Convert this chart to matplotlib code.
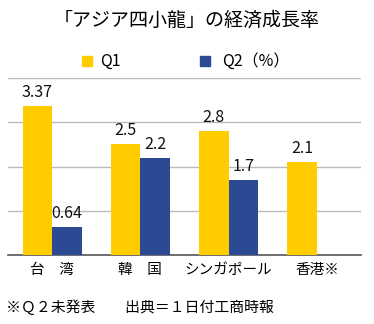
import numpy as np
import matplotlib
matplotlib.use("Agg")
import matplotlib.pyplot as plt
from matplotlib.patches import Rectangle

plt.rcParams['font.family'] = ['Noto Sans CJK JP', 'DejaVu Sans']

TITLE = "「アジア四小龍」の経済成長率"
categories = ["台　湾", "韓　国", "シンガポール", "香港※"]
q1 = [3.37, 2.5, 2.8, 2.1]
q2 = [0.64, 2.2, 1.7, None]
q1_labels = ["3.37", "2.5", "2.8", "2.1"]
q2_labels = ["0.64", "2.2", "1.7", None]
series_names = ["Q1", "Q2（%）"]
FOOTNOTE = "※Ｑ２未発表　　出典＝１日付工商時報"

YELLOW = '#FFCC00'
BLUE = '#2C4A94'

W, H = 374, 324
fig = plt.figure(figsize=(W / 100, H / 100), dpi=100)
ax = fig.add_axes([8 / W, (H - 255) / H, (361 - 8) / W, (255 - 78) / H])

x = np.arange(len(categories))
bw = 0.335
for i in range(len(categories)):
    ax.bar(x[i] - bw / 2, q1[i], bw, color=YELLOW, zorder=3)
    ax.text(x[i] - bw / 2, q1[i] + 0.12, q1_labels[i], ha='center', va='bottom',
            fontsize=11.5, color='#111111')
    if q2[i] is not None:
        ax.bar(x[i] + bw / 2, q2[i], bw, color=BLUE, zorder=3)
        ax.text(x[i] + bw / 2, q2[i] + 0.1, q2_labels[i], ha='center', va='bottom',
                fontsize=11.5, color='#111111')

ax.set_xlim(-0.5, 3.5)
ax.set_ylim(0, 4)
ax.set_yticks([1, 2, 3, 4])
ax.yaxis.grid(True, color='#BBBBBB', linewidth=1)
ax.set_axisbelow(True)
ax.tick_params(axis='y', length=0, labelleft=False)
ax.set_xticks(x)
ax.set_xticklabels(categories, fontsize=10.5)
ax.tick_params(axis='x', length=0, pad=6)
for s in ['top', 'left', 'right']:
    ax.spines[s].set_visible(False)
ax.spines['bottom'].set_color('#555555')
ax.spines['bottom'].set_linewidth(1.2)

fig.text(0.5, 1 - 20 / H, TITLE, ha='center', va='center', fontsize=13.7)

# legend
ly = 1 - 61 / H
sq = 10
for xpos, col, name, tx in [(82, YELLOW, series_names[0], 100), (200, BLUE, series_names[1], 222)]:
    fig.patches.append(Rectangle((xpos / W, ly - sq / 2 / H), sq / W, sq / H,
                                 transform=fig.transFigure, color=col))
    fig.text(tx / W, ly, name, ha='left', va='center', fontsize=11.5)

fig.text(6 / W, 1 - 307 / H, FOOTNOTE, ha='left', va='center', fontsize=10.7)

fig.savefig('out.png', dpi=100)
